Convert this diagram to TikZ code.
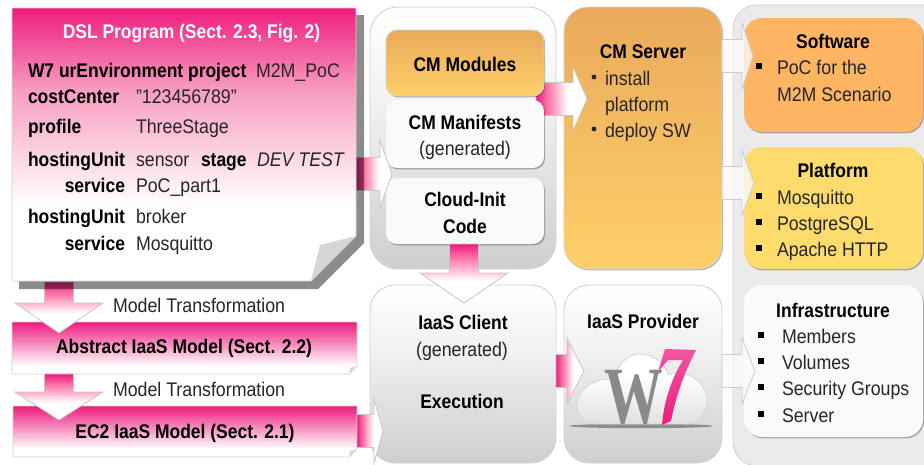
\documentclass[tikz,border=0pt]{standalone}
\usepackage{fontspec}
\setmainfont{Liberation Sans}[FakeStretch=0.9,BoldFeatures={FakeStretch=0.885},Ligatures=NoCommon]
\usetikzlibrary{calc,shadows}
\definecolor{tpink}{HTML}{EE1C7E}
\definecolor{midpink}{HTML}{FF7FAE}
\definecolor{notemid}{HTML}{F79DC0}
\definecolor{orT}{HTML}{EAA95C}
\definecolor{orB}{HTML}{FDD068}
\definecolor{softc}{HTML}{FDB564}
\definecolor{platc}{HTML}{FDDB6D}
\definecolor{edgec}{HTML}{D4D4D4}
\definecolor{inkc}{HTML}{262626}
\definecolor{wgrey}{HTML}{8A8A8A}
% the path box is mapped on 25bp..75bp of the shading
\pgfdeclareverticalshading{notefade}{100bp}{color(0bp)=(white); color(39bp)=(white); color(60bp)=(notemid); color(75bp)=(tpink); color(100bp)=(tpink)}
\pgfdeclareverticalshading{barfade}{100bp}{color(0bp)=(white); color(33bp)=(white); color(75bp)=(tpink); color(100bp)=(tpink)}
\pgfdeclareverticalshading{arrowfade}{100bp}{color(0bp)=(white); color(44bp)=(white); color(62bp)=(midpink); color(75bp)=(tpink); color(100bp)=(tpink)}
\pgfdeclareverticalshading{greyfade}{100bp}{color(0bp)=(black!19); color(25bp)=(black!19); color(58bp)=(black!5); color(75bp)=(white); color(100bp)=(white)}
\pgfdeclareverticalshading{orfade}{100bp}{color(0bp)=(orB); color(25bp)=(orB); color(75bp)=(orT); color(100bp)=(orT)}
\pgfdeclareverticalshading{cloudfade}{100bp}{color(0bp)=(black!12); color(25bp)=(black!12); color(60bp)=(white); color(100bp)=(white)}
\tikzset{
  x=0.75pt,y=-0.75pt,
  boxbase/.style={rectangle,inner sep=0pt,outer sep=0pt},
  softsh/.style={drop shadow={shadow xshift=0.8pt,shadow yshift=-1pt,opacity=.3,fill=black}},
  greybox/.style={boxbase,draw=edgec,line width=.7pt,shade,shading=greyfade},
  orbox/.style={boxbase,draw=edgec,line width=.7pt,shade,shading=orfade},
  palebox/.style={boxbase,fill=black!2,softsh},
  fadearrow/.style={draw=black!22,line width=.6pt,shade,shading=arrowfade},
  palearrow/.style={draw=black!20,line width=.6pt,fill=black!2,fill opacity=.8},
  basetxt/.style={inner sep=0pt,outer sep=0pt,text=inkc,font=\fontsize{14.8}{18}\selectfont},
  tl/.style={basetxt,anchor=base west},
  tc/.style={basetxt,anchor=base},
  tr/.style={basetxt,anchor=base east},
  bl/.style={tl,text=black,font=\fontsize{14.8}{18}\selectfont\bfseries},
  bc/.style={tc,text=black,font=\fontsize{14.8}{18}\selectfont\bfseries},
  br/.style={tr,text=black,font=\fontsize{14.8}{18}\selectfont\bfseries},
  sqb/.style={rectangle,fill=black,inner sep=0pt,minimum size=4.2pt},
  rdb/.style={circle,fill=inkc,inner sep=0pt,minimum size=3.6pt},
}
\newcommand{\boxn}[7][]{%
  \pgfmathsetmacro\cxv{(#3+#5)/2}\pgfmathsetmacro\cyv{(#4+#6)/2}%
  \pgfmathsetmacro\wdv{(#5-#3)*0.75}\pgfmathsetmacro\htv{(#6-#4)*0.75}%
  \pgfmathsetmacro\rdv{#7*0.75}%
  \node[#1,minimum width=\wdv pt,minimum height=\htv pt,rounded corners=\rdv pt] (#2) at (\cxv,\cyv) {};}
% right-pointing block arrow: style, from, to, body half, head half, head length
\newcommand{\arrR}[6][]{%
  \path[#1] let \p1=(#2),\p2=(#3) in
   (\x1,{\y1+#4*0.75pt}) -- ({\x2-#6*0.75pt},{\y1+#4*0.75pt}) -- ({\x2-#6*0.75pt},{\y1+#5*0.75pt}) -- (\x2,\y1)
   -- ({\x2-#6*0.75pt},{\y1-#5*0.75pt}) -- ({\x2-#6*0.75pt},{\y1-#4*0.75pt}) -- (\x1,{\y1-#4*0.75pt}) -- cycle;}
% down-pointing block arrow
\newcommand{\arrD}[6][]{%
  \path[#1] let \p1=(#2),\p2=(#3) in
   ({\x1-#4*0.75pt},\y1) -- ({\x1-#4*0.75pt},{\y2+#6*0.75pt}) -- ({\x1-#5*0.75pt},{\y2+#6*0.75pt}) -- (\x1,\y2)
   -- ({\x1+#5*0.75pt},{\y2+#6*0.75pt}) -- ({\x1+#4*0.75pt},{\y2+#6*0.75pt}) -- ({\x1+#4*0.75pt},\y1) -- cycle;}
\begin{document}
\begin{tikzpicture}
\useasboundingbox (0,0) rectangle (924,464);
\clip (0,0) rectangle (924,464);
\fill[white] (0,0) rectangle (924,464);
% right panel
\boxn[boxbase,draw=edgec,line width=.7pt,fill=black!8]{panel}{733}{5}{950}{466}{24}
% columns
\boxn[greybox]{group}{370}{7}{556}{269}{28}
\boxn[orbox,softsh]{server}{564}{7}{722}{269}{24}
\boxn[greybox]{client}{370}{285}{556}{463}{25}
\boxn[greybox]{provider}{564}{285}{722}{463}{25}
\boxn[boxbase,fill=softc,softsh]{software}{744}{18}{923}{132}{18}
\boxn[boxbase,fill=platc,softsh]{platform}{744}{147}{923}{269}{18}
\boxn[palebox]{infra}{744}{285}{923}{437}{18}
% CM Modules -> CM Server (starts behind the boxes)
\coordinate (a4s) at (536,99);
\coordinate (a4t) at (server.west |- 0,99);
\coordinate (a4tip) at ($(a4t)+(23,0)$);
\arrR[draw=black!22,line width=.6pt,shade,shading=arrowfade,shading angle=90]{a4s}{a4tip}{16.5}{32}{14}
\boxn[orbox,softsh]{modules}{386}{30}{544}{96}{11}
\boxn[palebox]{manifests}{386}{100}{544}{168}{11}
\boxn[palebox]{cloudinit}{386}{178}{544}{244}{11}
% model boxes
\node[boxbase,minimum width=258.75pt,minimum height=39pt] (abstract) at (184.5,348) {};
\path[shade,shading=barfade,draw=edgec,line width=.6pt] (12,322) -- (357,322) -- (357,366) -- (349,374) -- (12,374) -- cycle;
\fill[black!15] (357,366) -- (350,368) -- (349,374) -- cycle;
\node[boxbase,minimum width=258pt,minimum height=38.25pt] (ec2) at (185,431.5) {};
\path[shade,shading=barfade,draw=edgec,line width=.6pt] (13,406) -- (357,406) -- (357,449) -- (349,457) -- (13,457) -- cycle;
\fill[black!15] (357,449) -- (350,451) -- (349,457) -- cycle;
\node[boxbase,minimum width=258pt,minimum height=204.75pt] (dsl) at (184,144.5) {};
% fading arrows
\coordinate (a1s) at (59,282);
\coordinate (a1t) at (59,333);
\arrD[fadearrow]{a1s}{a1t}{14.5}{44}{30}
\coordinate (a2s) at (abstract.south -| 59,0);
\coordinate (a2t) at (59,420);
\arrD[fadearrow]{a2s}{a2t}{14.5}{44}{28}
\coordinate (a3s) at (dsl.east |- 0,174);
\coordinate (a3t) at (392,174);
\arrR[fadearrow,shading angle=90]{a3s}{a3t}{16.5}{33.5}{12}
\coordinate (a5s) at (cloudinit.south -| 464,0);
\coordinate (a5t) at (464,303);
\arrD[fadearrow]{a5s}{a5t}{14.5}{44}{30}
\coordinate (a6s) at (ec2.east |- 0,431);
\coordinate (a6t) at (383,431);
\arrR[fadearrow,shading angle=90]{a6s}{a6t}{16.5}{32}{9}
\coordinate (a7s) at (client.east |- 0,371);
\coordinate (a7t) at (584,371);
\arrR[fadearrow,shading angle=90]{a7s}{a7t}{16.5}{33}{17}
% pale arrows to the right column
\coordinate (a8s) at (server.east |- 0,56);
\coordinate (a8t) at (753,56);
\arrR[palearrow]{a8s}{a8t}{16.5}{33}{11}
\coordinate (a9s) at (server.east |- 0,183);
\coordinate (a9t) at (754,183);
\arrR[palearrow]{a9s}{a9t}{16.5}{33}{12}
\coordinate (a10s) at (provider.east |- 0,371);
\coordinate (a10t) at (755,371);
\arrR[palearrow]{a10s}{a10t}{16.5}{33}{13}
% DSL sheet
\fill[black,opacity=.45] (19,15) -- (364,15) -- (364,243) -- (318,289) -- (19,289) -- cycle;
\path[shade,shading=notefade,draw=edgec,line width=.6pt] (12,8) -- (356,8) -- (356,236) -- (311,281) -- (12,281) -- cycle;
\fill[black!16] (356,236) -- (320,245) -- (311,281) -- cycle;
% logo
\fill[black,opacity=.35] (641,426) ellipse [x radius=72,y radius=2.2];
\path[shade,shading=cloudfade,draw=black!18,line width=.5pt]
  (597,424) .. controls (582,424) and (576,414) .. (577,405)
  .. controls (577,392) and (590,378) .. (615,379)
  .. controls (616,365) and (628,354) .. (640,354)
  .. controls (655,354) and (665,365) .. (668,375)
  .. controls (690,368) and (708,385) .. (707,402)
  .. controls (707,415) and (697,424) .. (688,424) -- cycle;
\node[inner sep=0pt,outer sep=0pt,anchor=base,text=wgrey,xscale=.72,font=\fontspec{Liberation Serif}\fontsize{61}{61}\selectfont\bfseries] (logow) at (634,423) {W};
\path[top color=tpink!75,bottom color=tpink]
  (665,349) -- (696,350) .. controls (683,375) and (675,400) .. (671,421) -- (662,425)
  .. controls (664,400) and (672,378) .. (683,360) -- (668,360) -- (658,372) -- cycle;
% DSL text
\node[tc,text=white,font=\fontsize{14.8}{18}\selectfont\bfseries] (t1) at (191.5,38) {DSL Program (Sect. 2.3, Fig. 2)};
\node[bl] (t2) at (28,77) {W7 urEnvironment project};
\node[tl] (t3) at (256,77) {M2M\_PoC};
\node[bl] (t4) at (28,103) {costCenter};
\node[tl] (t5) at (136,103) {\symbol{34}123456789\symbol{34}};
\node[bl] (t6) at (28,133) {profile};
\node[tl] (t7) at (136,133) {ThreeStage};
\node[bl] (t8) at (28,166) {hostingUnit};
\node[tl] (t9) at (136,166) {sensor};
\node[bl] (t10) at (201,166) {stage};
\node[tl,font=\fontsize{14.8}{18}\selectfont\itshape] (t11) at (257,166) {DEV TEST};
\node[br] (t12) at (125,192) {service};
\node[tl] (t13) at (136,192) {PoC\_part1};
\node[bl] (t14) at (28,223) {hostingUnit};
\node[tl] (t15) at (136,223) {broker};
\node[br] (t16) at (125,250) {service};
\node[tl] (t17) at (136,250) {Mosquitto};
\node[tl] (t18) at (113,312) {Model Transformation};
\node[tl] (t19) at (113,396) {Model Transformation};
\node[bc] (t20) at (184,353) {Abstract IaaS Model (Sect. 2.2)};
\node[bc] (t21) at (185,438) {EC2 IaaS Model (Sect. 2.1)};
% centre text
\node[bc] (t22) at (465,71) {CM Modules};
\node[bc] (t23) at (465,129) {CM Manifests};
\node[tc] (t24) at (465,155) {(generated)};
\node[bc] (t25) at (465,206) {Cloud-Init};
\node[bc] (t26) at (465,233) {Code};
\node[bc] (t27) at (643,58) {CM Server};
\node[rdb] (b1) at (594,77) {};
\node[tl] (t28) at (605,85) {install};
\node[tl] (t29) at (605,111) {platform};
\node[rdb] (b2) at (594,129) {};
\node[tl] (t30) at (605,137) {deploy SW};
\node[bc] (t31) at (463,329) {IaaS Client};
\node[tc] (t32) at (462,356) {(generated)};
\node[bc] (t33) at (462,408) {Execution};
\node[bc] (t34) at (643,328) {IaaS Provider};
% right column text
\node[bc] (t35) at (833,48) {Software};
\node[sqb] (b3) at (759,66) {};
\node[tl] (t36) at (777,74) {PoC for the};
\node[tl] (t37) at (777,101) {M2M Scenario};
\node[bc] (t38) at (833,177) {Platform};
\node[sqb] (b4) at (759,196) {};
\node[tl] (t39) at (777,204) {Mosquitto};
\node[sqb] (b5) at (759,222) {};
\node[tl] (t40) at (777,230) {PostgreSQL};
\node[sqb] (b6) at (759,248) {};
\node[tl] (t41) at (777,256) {Apache HTTP};
\node[bc] (t42) at (833,317) {Infrastructure};
\node[sqb] (b7) at (761,335) {};
\node[tl] (t43) at (782,343) {Members};
\node[sqb] (b8) at (761,361) {};
\node[tl] (t44) at (782,369) {Volumes};
\node[sqb] (b9) at (761,387) {};
\node[tl] (t45) at (782,395) {Security Groups};
\node[sqb] (b10) at (761,414) {};
\node[tl] (t46) at (782,422) {Server};
\end{tikzpicture}
\end{document}
